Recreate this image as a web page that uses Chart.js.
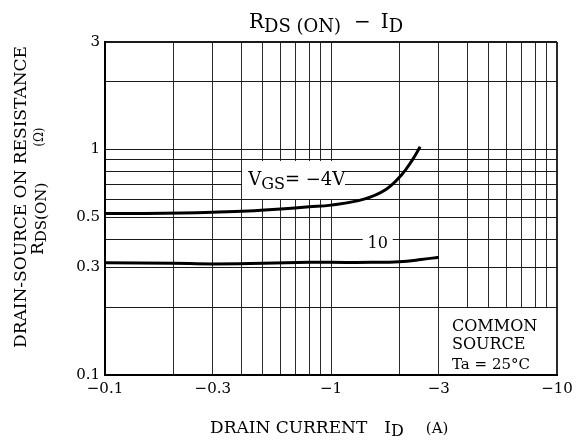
<!DOCTYPE html>
<html>
<head>
<meta charset="utf-8">
<script src="https://cdn.jsdelivr.net/npm/chart.js@4.4.1/dist/chart.umd.min.js"></script>
<style>
  html, body { margin: 0; padding: 0; background: #fff; }
  #wrap { width: 584px; height: 441px; }
</style>
</head>
<body>
<div id="wrap"><canvas id="chart" width="584" height="441"></canvas></div>
<script>
// ─── Data ───────────────────────────────────────────────────

// V_GS = -4 V
const idNeg4 = [0.1, 0.15, 0.22, 0.3, 0.43, 0.6, 0.8, 1.0, 1.4, 1.75, 2.05, 2.3, 2.48];
const rdsNeg4 = [0.52, 0.521, 0.523, 0.527, 0.534, 0.545, 0.557, 0.567, 0.603, 0.665, 0.771, 0.905, 1.03];

// V_GS = -10 V
const idNeg10 = [0.1, 0.2, 0.3, 0.5, 0.8, 1.0, 1.5, 2.0, 2.5, 3.0];
const rdsNeg10 = [0.315, 0.313, 0.311, 0.313, 0.316, 0.316, 0.316, 0.318, 0.325, 0.333];

// Grid lines and labelled ticks
const xGrid = [0.1, 0.2, 0.3, 0.4, 0.5, 0.6, 0.7, 0.8, 0.9, 1, 2, 3, 4, 5, 6, 7, 8, 9, 10];
const xLabels = [0.1, 0.3, 1, 3, 10];
const yGrid = [0.1, 0.2, 0.3, 0.4, 0.5, 0.6, 0.7, 0.8, 0.9, 1, 2, 3];
const yLabels = [0.1, 0.3, 0.5, 1, 3];

const SERIF = '"DejaVu Serif", "Liberation Serif", serif';

// ─── Text helpers ───────────────────────────────────────────

function runsWidth(ctx, runs) {
  let w = 0;
  runs.forEach(r => {
    if (r.text) {
      ctx.font = `${r.size}px ${SERIF}`;
      w += ctx.measureText(r.text).width;
    }
    w += r.gap || 0;
  });
  return w;
}

function drawRuns(ctx, runs, x, y) {
  let cx = x;
  ctx.textAlign = 'left';
  ctx.textBaseline = 'alphabetic';
  runs.forEach(r => {
    if (r.text) {
      ctx.font = `${r.size}px ${SERIF}`;
      ctx.fillText(r.text, cx, y + (r.dy || 0));
      cx += ctx.measureText(r.text).width;
    }
    cx += r.gap || 0;
  });
}

// ─── Annotations plugin ─────────────────────────────────────

const annotations = {
  id: 'annotations',
  beforeDatasetsDraw(chart) {
    const { ctx, chartArea: a, scales: { x, y } } = chart;
    ctx.save();
    ctx.fillStyle = '#fff';

    // V_GS = -4V label box
    const bx0 = Math.round(x.getPixelForValue(0.4)) + 1;
    const bx1 = Math.round(x.getPixelForValue(1.15));
    const by0 = Math.round(y.getPixelForValue(0.9)) + 1;
    const by1 = Math.round(y.getPixelForValue(0.6)) - 1;
    ctx.fillRect(bx0, by0, bx1 - bx0, by1 - by0);

    // "10" label box
    const tx = x.getPixelForValue(1.61);
    const ty = y.getPixelForValue(0.385);
    ctx.fillRect(tx - 15, ty - 10, 30, 20);

    // common source box
    const cx0 = Math.round(x.getPixelForValue(3)) + 1;
    const cy0 = Math.round(y.getPixelForValue(0.2)) + 1;
    ctx.fillRect(cx0, cy0, a.right - 1 - cx0, a.bottom - 1 - cy0);

    ctx.fillStyle = '#000';
    drawRuns(ctx, [
      { text: 'V', size: 18 },
      { text: 'GS', size: 16, dy: 4 },
      { text: '= \u22124V', size: 18 },
    ], x.getPixelForValue(0.43), y.getPixelForValue(0.697));

    ctx.font = `16px ${SERIF}`;
    ctx.textAlign = 'center';
    ctx.textBaseline = 'middle';
    ctx.fillText('10', tx, ty + 1);

    ctx.textAlign = 'left';
    ctx.textBaseline = 'alphabetic';
    ctx.font = `16px ${SERIF}`;
    ctx.fillText('COMMON', cx0 + 12, a.bottom - 44);
    ctx.fillText('SOURCE', cx0 + 12, a.bottom - 26);
    ctx.font = `15px ${SERIF}`;
    ctx.fillText('Ta = 25\u00B0C', cx0 + 12, a.bottom - 6);
    ctx.restore();
  },
  afterDraw(chart) {
    const { ctx } = chart;
    ctx.save();
    ctx.fillStyle = '#000';

    // Title
    const title = [
      { text: 'R', size: 20 },
      { text: 'DS (ON)', size: 18, dy: 4, gap: 13 },
      { text: '\u2212', size: 20, gap: 10 },
      { text: 'I', size: 20 },
      { text: 'D', size: 18, dy: 4 },
    ];
    const tw = runsWidth(ctx, title);
    drawRuns(ctx, title, 326 - tw / 2, 28);

    // X axis title
    drawRuns(ctx, [
      { text: 'DRAIN CURRENT', size: 17, gap: 17 },
      { text: 'I', size: 17 },
      { text: 'D', size: 16, dy: 3, gap: 22 },
      { text: '(A)', size: 15 },
    ], 210, 433);

    // Y axis title (rotated)
    ctx.save();
    ctx.translate(26, 197);
    ctx.rotate(-Math.PI / 2);
    const l1 = [{ text: 'DRAIN-SOURCE ON RESISTANCE', size: 17 }];
    drawRuns(ctx, l1, -runsWidth(ctx, l1) / 2, 0);
    ctx.restore();

    ctx.save();
    ctx.translate(43, 255);
    ctx.rotate(-Math.PI / 2);
    drawRuns(ctx, [
      { text: 'R', size: 17 },
      { text: 'DS(ON)', size: 15, dy: 3, gap: 36 },
      { text: '(\u03A9)', size: 12 },
    ], 0, 0);
    ctx.restore();

    ctx.restore();
  },
};

// ─── Chart ──────────────────────────────────────────────────

const toPoints = (xs, ys) => xs.map((v, i) => ({ x: v, y: ys[i] }));

new Chart(document.getElementById('chart'), {
  type: 'line',
  data: {
    datasets: [
      {
        label: 'VGS = -4V',
        data: toPoints(idNeg4, rdsNeg4),
        borderColor: '#000',
        borderWidth: 3,
        pointRadius: 0,
        tension: 0.4,
      },
      {
        label: 'VGS = -10V',
        data: toPoints(idNeg10, rdsNeg10),
        borderColor: '#000',
        borderWidth: 3,
        pointRadius: 0,
        tension: 0.4,
      },
    ],
  },
  options: {
    responsive: false,
    animation: false,
    events: [],
    layout: { padding: { left: 0, right: 27, top: 42, bottom: 0 } },
    plugins: {
      legend: { display: false },
      tooltip: { enabled: false },
    },
    scales: {
      x: {
        type: 'logarithmic',
        min: 0.1,
        max: 10,
        afterBuildTicks: s => { s.ticks = xGrid.map(v => ({ value: v })); },
        afterFit: s => { s.height = 66; },
        grid: {
          color: '#2a2a2a',
          lineWidth: c => (c.tick && c.tick.value === 10 ? 2 : 1),
          drawTicks: false,
        },
        border: { color: '#000', width: 2 },
        ticks: {
          autoSkip: false,
          maxRotation: 0,
          padding: 5,
          color: '#000',
          font: { family: SERIF, size: 15 },
          callback: v => (xLabels.includes(v) ? '\u2212' + v : ''),
        },
      },
      y: {
        type: 'logarithmic',
        min: 0.1,
        max: 3,
        afterBuildTicks: s => { s.ticks = yGrid.map(v => ({ value: v })); },
        afterFit: s => { s.width = 105; },
        grid: {
          color: '#1a1a1a',
          lineWidth: c => (c.tick && c.tick.value === 3 ? 2 : 1),
          drawTicks: false,
        },
        border: { color: '#000', width: 2 },
        ticks: {
          autoSkip: false,
          padding: 5,
          color: '#000',
          font: { family: SERIF, size: 15 },
          callback: v => (yLabels.includes(v) ? String(v) : ''),
        },
      },
    },
  },
  plugins: [annotations],
});
</script>
</body>
</html>
